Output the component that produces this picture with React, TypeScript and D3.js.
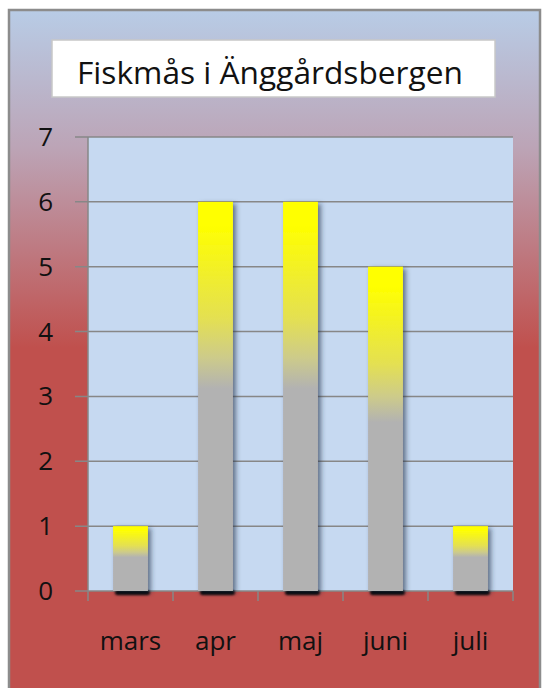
import React, { useEffect, useRef } from 'react';
import * as d3 from 'd3';

const months = ['mars', 'apr', 'maj', 'juni', 'juli'];
const counts = [1, 6, 6, 5, 1];
const yTicks = [0, 1, 2, 3, 4, 5, 6, 7];
const title = 'Fiskmås i Änggårdsbergen';

const App = () => {
  const ref = useRef<SVGSVGElement>(null);

  useEffect(() => {
    const svg = d3.select(ref.current);
    svg.selectAll('*').remove();
    const font = "'Open Sans', Calibri, sans-serif";

    const defs = svg.append('defs');
    const bg = defs.append('linearGradient').attr('id', 'bg')
      .attr('x1', 0).attr('y1', 0).attr('x2', 0).attr('y2', 1);
    bg.append('stop').attr('offset', '0%').attr('stop-color', '#b8cce6');
    bg.append('stop').attr('offset', '20%').attr('stop-color', '#bca4b6');
    bg.append('stop').attr('offset', '49%').attr('stop-color', '#c0504d');
    bg.append('stop').attr('offset', '100%').attr('stop-color', '#c0504d');

    const bar = defs.append('linearGradient').attr('id', 'bar')
      .attr('x1', 0).attr('y1', 0).attr('x2', 0).attr('y2', 1);
    [['0%', '#ffff00'], ['6%', '#ffff00'], ['30%', '#e4e052'], ['40%', '#cdcb8a'], ['48%', '#b2b2b2'], ['100%', '#b2b2b2']]
      .forEach(([o, c]) => bar.append('stop').attr('offset', o).attr('stop-color', c));

    const shadow = defs.append('filter').attr('id', 'sh')
      .attr('x', '-30%').attr('y', '-10%').attr('width', '160%').attr('height', '130%');
    shadow.append('feDropShadow').attr('dx', 3).attr('dy', 2).attr('stdDeviation', 2.5)
      .attr('flood-color', '#1f2f45').attr('flood-opacity', 0.6);
    const blur = defs.append('filter').attr('id', 'bl')
      .attr('x', '-20%').attr('y', '-100%').attr('width', '140%').attr('height', '300%');
    blur.append('feGaussianBlur').attr('stdDeviation', 1.2);

    // outer frame
    svg.append('rect').attr('x', 9).attr('y', 10).attr('width', 531).attr('height', 690)
      .attr('fill', 'url(#bg)').attr('stroke', '#8c8c8c').attr('stroke-width', 2.5);

    // title box
    svg.append('rect').attr('x', 52).attr('y', 40).attr('width', 443).attr('height', 57)
      .attr('fill', '#fff').attr('stroke', '#c8c8c8').attr('stroke-width', 1.5);
    svg.append('text').attr('x', 77).attr('y', 84)
      .attr('font-family', font).attr('font-size', 31).attr('fill', '#111')
      .attr('textLength', 386).attr('lengthAdjust', 'spacingAndGlyphs')
      .text(title);

    const left = 88, right = 513, top = 137, bottom = 591;
    const x = d3.scaleBand().domain(months).range([left, right]).paddingInner(0.59).paddingOuter(0.295);
    const band = d3.scaleBand().domain(months).range([left, right]);
    const y = d3.scaleLinear().domain([0, 7]).range([bottom, top]);

    svg.append('rect').attr('x', left).attr('y', top).attr('width', right - left).attr('height', bottom - top)
      .attr('fill', '#c6d9f1');

    svg.append('g').selectAll('line').data(yTicks).join('line')
      .attr('x1', 75).attr('x2', right).attr('y1', d => y(d)).attr('y2', d => y(d))
      .attr('stroke', '#878787').attr('stroke-width', 1.5);

    svg.append('line').attr('x1', left).attr('x2', left).attr('y1', top).attr('y2', bottom)
      .attr('stroke', '#878787').attr('stroke-width', 1.5);

    // category ticks
    const edges = months.map(m => band(m) as number).concat([right]);
    svg.append('g').selectAll('line').data(edges).join('line')
      .attr('x1', d => d).attr('x2', d => d).attr('y1', bottom).attr('y2', bottom + 10)
      .attr('stroke', '#878787').attr('stroke-width', 1.5);

    // base shadows
    svg.append('g').selectAll('rect').data(counts).join('rect')
      .attr('x', (_, i) => (x(months[i]) as number) + 2).attr('y', bottom - 1)
      .attr('width', x.bandwidth()).attr('height', 5).attr('rx', 3)
      .attr('fill', '#000').attr('filter', 'url(#bl)');

    svg.append('g').selectAll('rect').data(counts).join('rect')
      .attr('x', (_, i) => x(months[i]) as number).attr('y', d => y(d))
      .attr('width', x.bandwidth()).attr('height', d => bottom - y(d))
      .attr('fill', 'url(#bar)').attr('filter', 'url(#sh)');

    svg.append('g').selectAll('text').data(yTicks).join('text')
      .attr('x', 53).attr('y', d => y(d) + 9).attr('text-anchor', 'end')
      .attr('font-family', font).attr('font-size', 26).attr('fill', '#111')
      .text(d => d);

    svg.append('g').selectAll('text').data(months).join('text')
      .attr('x', d => (band(d) as number) + band.bandwidth() / 2).attr('y', 650)
      .attr('text-anchor', 'middle')
      .attr('font-family', font).attr('font-size', 26).attr('fill', '#111')
      .text(d => d);
  }, []);

  return (
    <svg ref={ref} width={544} height={688} style={{ position: 'absolute', left: 0, top: 0 }} />
  );
};

export default App;
